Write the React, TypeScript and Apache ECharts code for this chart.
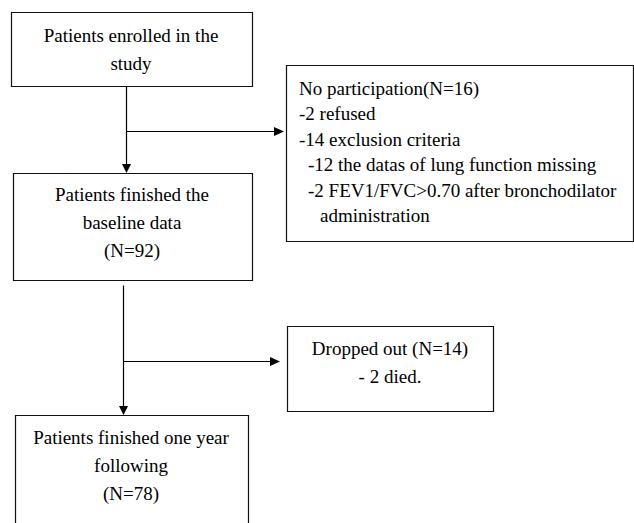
import React, { useEffect, useRef } from "react";
import * as echarts from "echarts";

const enrolledLines = ["Patients enrolled in the", "study"];
const baselineLines = ["Patients finished the", "baseline data", "(N=92)"];
const followLines = ["Patients finished one year", "following", "(N=78)"];
const excludedLines = [
  "No participation(N=16)",
  "-2 refused",
  "-14 exclusion criteria",
  "-12 the datas of lung function missing",
  "-2 FEV1/FVC>0.70 after bronchodilator",
  "administration",
];
const droppedLines = ["Dropped out (N=14)", "- 2 died."];

const FAMILY = "Liberation Serif";
const SIZE = 19;

function box(x: number, y: number, w: number, h: number) {
  return {
    type: "rect",
    shape: { x: x + 0.5, y: y + 0.5, width: w, height: h },
    style: { fill: "#fff", stroke: "#111", lineWidth: 1.2 },
  };
}

function txt(t: string, x: number, y: number, align: string) {
  return {
    type: "text",
    x,
    y,
    style: {
      text: t,
      fontFamily: FAMILY,
      fontSize: SIZE,
      fill: "#000",
      textAlign: align,
      textVerticalAlign: "middle",
    },
  };
}

function centeredText(lines: string[], cx: number, y0: number, step: number) {
  return lines.map((t, i) => txt(t, cx, y0 + i * step, "center"));
}

function line(x1: number, y1: number, x2: number, y2: number) {
  return {
    type: "line",
    shape: { x1: x1 + 0.5, y1: y1 + 0.5, x2: x2 + 0.5, y2: y2 + 0.5 },
    style: { stroke: "#000", lineWidth: 1.2 },
  };
}

function arrowDown(x: number, tipY: number) {
  return {
    type: "polygon",
    shape: { points: [[x + 0.5 - 4.5, tipY - 9], [x + 0.5 + 4.5, tipY - 9], [x + 0.5, tipY]] },
    style: { fill: "#000" },
  };
}

function arrowRight(tipX: number, y: number) {
  return {
    type: "polygon",
    shape: { points: [[tipX - 10, y + 0.5 - 4.5], [tipX - 10, y + 0.5 + 4.5], [tipX, y + 0.5]] },
    style: { fill: "#000" },
  };
}

export default function App() {
  const ref = useRef<HTMLDivElement>(null);
  useEffect(() => {
    if (!ref.current) return;
    const chart = echarts.init(ref.current, null, { renderer: "svg" });
    const excludedX = [299, 299, 299, 308, 308, 320];
    const excludedY = [88, 113, 139, 164, 190, 215];
    const elements: any[] = [
      box(11, 12, 241, 74),
      box(13, 173, 239, 107),
      box(286, 65, 347, 176),
      box(287, 326, 206, 85),
      box(15, 415, 233, 140),
      line(126, 86, 126, 165),
      arrowDown(126, 173),
      line(126, 131, 276, 131),
      arrowRight(284, 131),
      line(123, 285, 123, 406),
      arrowDown(123, 415),
      line(123, 361, 272, 361),
      arrowRight(280, 361),
      ...centeredText(enrolledLines, 131, 35, 28),
      ...centeredText(baselineLines, 132, 194, 28),
      ...centeredText(followLines, 131, 437, 28),
      ...centeredText(droppedLines, 390, 348, 28),
      ...excludedLines.map((t, i) => txt(t, excludedX[i], excludedY[i], "left")),
    ];
    chart.setOption({
      animation: false,
      backgroundColor: "#fff",
      graphic: { elements },
    });
    return () => chart.dispose();
  }, []);
  return (
    <div
      ref={ref}
      style={{ position: "fixed", left: 0, top: 0, width: 634, height: 523, background: "#fff" }}
    />
  );
}
